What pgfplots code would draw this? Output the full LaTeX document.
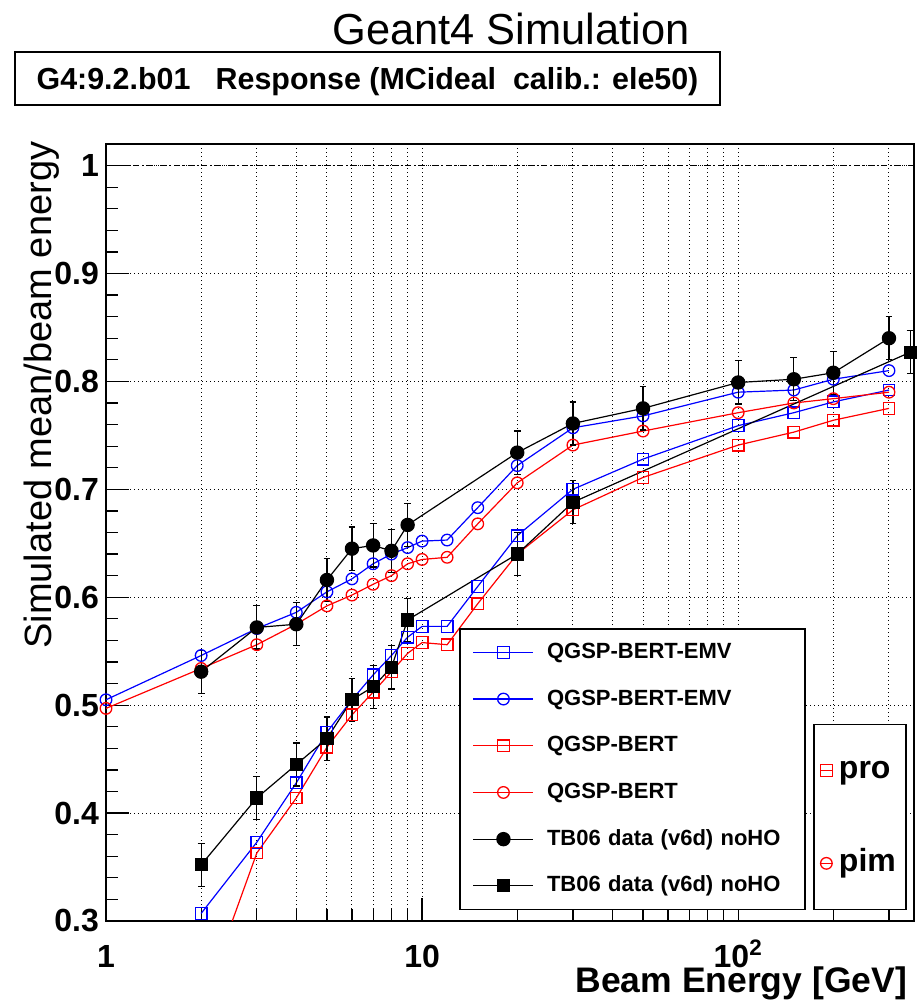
\documentclass[border=0pt]{standalone}
\usepackage{fontspec}
\setmainfont{Liberation Sans}
\usepackage{pgfplots}
\usepackage{pgfplotstable}
\pgfplotsset{compat=1.18}

% QGSP-BERT-EMV, protons
\pgfplotstableread{
E r
2 0.307
3 0.373
4 0.428
5 0.475
6 0.505
7 0.528
8 0.546
9 0.563
10 0.573
12 0.573
15 0.610
20 0.657
30 0.700
50 0.728
100 0.759
150 0.771
200 0.781
300 0.792
}\emvpro
% QGSP-BERT-EMV, pi-
\pgfplotstableread{
E r
1 0.505
2 0.546
3 0.571
4 0.586
5 0.605
6 0.617
7 0.631
8 0.640
9 0.646
10 0.652
12 0.653
15 0.683
20 0.722
30 0.757
50 0.768
100 0.790
150 0.792
200 0.802
300 0.810
}\emvpim
% QGSP-BERT, protons
\pgfplotstableread{
E r
2 0.220
3 0.363
4 0.414
5 0.461
6 0.491
7 0.512
8 0.531
9 0.548
10 0.558
12 0.556
15 0.594
20 0.640
30 0.681
50 0.711
100 0.741
150 0.753
200 0.764
300 0.775
}\bertpro
% QGSP-BERT, pi-
\pgfplotstableread{
E r
1 0.497
2 0.534
3 0.556
4 0.575
5 0.592
6 0.602
7 0.612
8 0.620
9 0.631
10 0.635
12 0.637
15 0.668
20 0.706
30 0.741
50 0.754
100 0.771
150 0.780
200 0.784
300 0.790
}\bertpim
% TB06 data, pi-
\pgfplotstableread{
E r e
2 0.531 0.020
3 0.572 0.020
4 0.575 0.020
5 0.616 0.020
6 0.645 0.020
7 0.648 0.020
8 0.643 0.020
9 0.667 0.020
20 0.734 0.020
30 0.761 0.020
50 0.775 0.020
100 0.799 0.020
150 0.802 0.020
200 0.808 0.020
300 0.840 0.020
}\datapim
% TB06 data, protons
\pgfplotstableread{
E r e
2 0.352 0.020
3 0.414 0.020
4 0.445 0.020
5 0.469 0.020
6 0.505 0.020
7 0.517 0.020
8 0.535 0.020
9 0.579 0.020
20 0.640 0.020
30 0.688 0.020
350 0.827 0.020
}\datapro

\begin{document}
\begin{tikzpicture}
\useasboundingbox (0,0) rectangle (460pt,502pt);

\node[anchor=base, font=\fontsize{21.7}{24}\selectfont] at (255.5pt,479.5pt) {Geant4 Simulation};
\draw[line width=0.75pt] (7.5pt,449.5pt) rectangle (360pt,476pt);
\node[anchor=base, font=\bfseries\fontsize{15.2}{17}\selectfont] at (183.75pt,457pt)
  {G4:9.2.b01\ \ \ Response (MCideal\ \ calib.: ele50)};

\begin{axis}[
  at={(53pt,41.5pt)}, anchor=south west,
  scale only axis, width=404pt, height=388.5pt,
  xmode=log, xmin=1, xmax=360, ymin=0.3, ymax=1.02,
  xtick={1,10,100}, xticklabels={1,10,10\textsuperscript{2}},
  minor xtick={2,3,4,5,6,7,8,9,20,30,40,50,60,70,80,90,200,300},
  ytick={0.3,0.4,0.5,0.6,0.7,0.8,0.9,1},
  yticklabels={0.3,0.4,0.5,0.6,0.7,0.8,0.9,1},
  minor y tick num=4,
  xtick pos=bottom, ytick pos=left, tick align=inside,
  major tick length=11.5pt, minor tick length=6pt,
  tick style={black, line width=0.6pt},
  xmajorgrids, xminorgrids, ymajorgrids,
  grid style={black, line width=0.5pt, dash pattern=on 0.6pt off 1.4pt},
  axis line style={line width=0.8pt},
  ticklabel style={font=\bfseries\fontsize{16}{18}\selectfont},
  xticklabel style={anchor=base, yshift=-23.5pt},
  xlabel={Beam Energy [GeV]},
  xlabel style={font=\bfseries\fontsize{17.75}{20}\selectfont,
    at={(axis description cs:1,0)}, anchor=base east, yshift=-36pt},
  ylabel={Simulated mean/beam energy},
  ylabel style={font=\fontsize{19}{21}\selectfont,
    at={(axis description cs:-0.079,1.012)}, anchor=east},
  legend cell align=left,
  legend image code/.code={\draw[mark repeat=2,mark phase=2]
    plot coordinates {(0pt,0pt) (15pt,0pt) (30pt,0pt)};},
  legend style={at={(axis description cs:0.437,0.014)}, anchor=south west,
    draw=black, line width=0.75pt, fill=white,
    inner xsep=6.5pt, inner ysep=6.25pt, row sep=12.35pt, column sep=6.5pt,
    font=\bfseries\fontsize{11}{13}\selectfont,
    nodes={inner sep=0pt, text height=8.5pt, text depth=2.5pt,
      text width=122.5pt, align=left}},
  error bars/error bar style={black, line width=0.6pt},
  error bars/error mark options={rotate=90, black, line width=0.6pt, mark size=1.7pt},
]
\addplot[forget plot, black, line width=0.6pt,
  dash pattern=on 3pt off 1.5pt on 0.8pt off 1.5pt] coordinates {(1,1) (360,1)};

\addplot[blue, line width=0.6pt, mark=square, mark size=2.9pt,
  mark options={solid, line width=0.65pt}] table[x=E, y=r] {\emvpro};
\addlegendentry{QGSP-BERT-EMV}
\addplot[blue, line width=0.6pt, mark=o, mark size=2.9pt,
  mark options={solid, line width=0.65pt}] table[x=E, y=r] {\emvpim};
\addlegendentry{QGSP-BERT-EMV}
\addplot[red, line width=0.6pt, mark=square, mark size=2.9pt,
  mark options={solid, line width=0.65pt}] table[x=E, y=r] {\bertpro};
\addlegendentry{QGSP-BERT}
\addplot[red, line width=0.6pt, mark=o, mark size=2.9pt,
  mark options={solid, line width=0.65pt}] table[x=E, y=r] {\bertpim};
\addlegendentry{QGSP-BERT}
\addplot[black, line width=0.6pt, mark=*, mark size=3.3pt,
  mark options={solid, fill=black},
  error bars/.cd, y dir=both, y explicit]
  table[x=E, y=r, y error=e] {\datapim};
\addlegendentry{TB06 data (v6d) noHO}
\addplot[black, line width=0.6pt, mark=square*, mark size=3pt,
  mark options={solid, fill=black},
  error bars/.cd, y dir=both, y explicit]
  table[x=E, y=r, y error=e] {\datapro};
\addlegendentry{TB06 data (v6d) noHO}
\end{axis}

\begin{axis}[
  at={(53pt,41.5pt)}, anchor=south west,
  scale only axis, width=404pt, height=388.5pt,
  hide axis, xmin=0, xmax=1, ymin=0, ymax=1,
  legend cell align=left,
  legend image code/.code={\draw[mark repeat=2,mark phase=2]
    plot coordinates {(0pt,0pt) (3pt,0pt) (6pt,0pt)};},
  legend style={at={(axis description cs:0.875,0.014)}, anchor=south west,
    draw=black, line width=0.75pt, fill=white,
    inner xsep=3pt, inner ysep=15.5pt, row sep=31.5pt, column sep=3pt,
    font=\bfseries\fontsize{16}{18}\selectfont,
    nodes={inner sep=0pt, text height=11.5pt, text depth=3.5pt,
      text width=30.5pt, align=left}},
]
\addlegendimage{red, line width=0.6pt, mark=square, mark size=2.9pt,
  mark options={solid, line width=0.65pt}}
\addlegendentry{pro}
\addlegendimage{red, line width=0.6pt, mark=o, mark size=2.9pt,
  mark options={solid, line width=0.65pt}}
\addlegendentry{pim}
\end{axis}
\end{tikzpicture}
\end{document}
